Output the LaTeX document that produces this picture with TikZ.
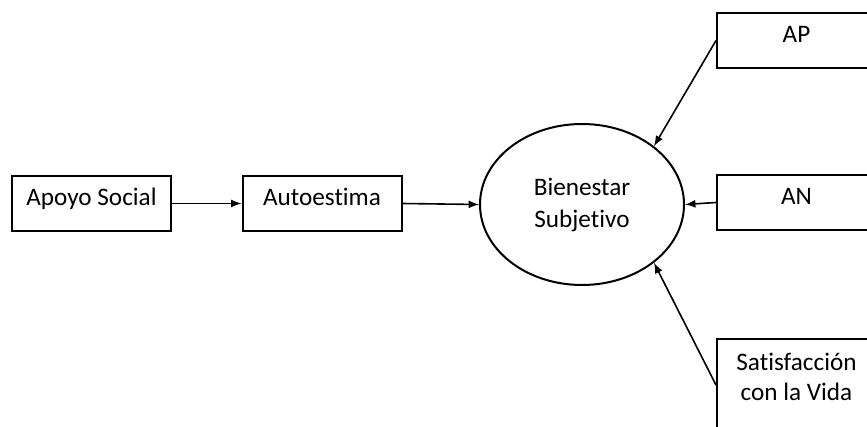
\documentclass[tikz,border=0pt]{standalone}
\usepackage{fontspec}
\setmainfont{Carlito}[Ligatures=NoCommon]
\usetikzlibrary{arrows,shapes.geometric}

\begin{document}
\begin{tikzpicture}[x=0.5pt,y=-0.5pt,line width=1pt,font=\fontsize{12.6}{15}\selectfont,
  caja/.style={draw,rectangle,minimum width=79.5pt,inner ysep=0pt,text height=15pt,text depth=12.5pt,align=center},
  flecha/.style={-latex,line width=0.8pt}]
\useasboundingbox (0,0) rectangle (867,427); % edit here for the margins
\node[caja] (apoyo) at (91.5,203.5) {Apoyo Social};
\node[caja] (auto) at (322,203.5) {Autoestima};
\node[draw,ellipse,minimum width=102pt,minimum height=80.5pt,align=center] (bs) at (582,204.5) {Bienestar\\[1pt]Subjetivo};
\node[caja] (ap) at (796.5,40.5) {AP};
\node[caja] (an) at (796.5,202.5) {AN};
\node[caja,text height=30.5pt,text depth=15.5pt] (sat) at (796.5,385) {Satisfacción\\con la Vida};
% edit here for the arrows
\draw[flecha] (apoyo.east) -- (auto.west);
\draw[flecha] (auto.east) -- (bs.west);
\draw[flecha] (ap.west) -- (bs.39);
\draw[flecha] (an.west) -- (bs.east);
\draw[flecha] (sat.west) -- (bs.-39);
\end{tikzpicture}
\end{document}
